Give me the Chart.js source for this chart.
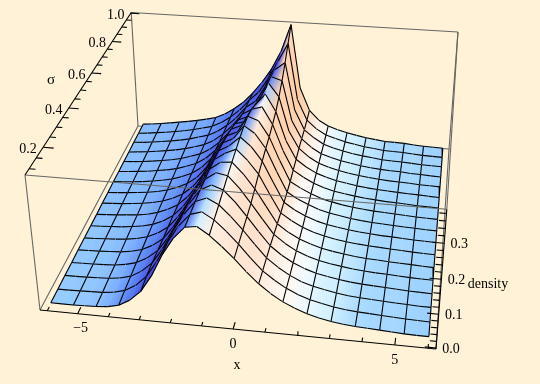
<!DOCTYPE html>
<html>
<head>
<meta charset="utf-8">
<script src="https://cdn.jsdelivr.net/npm/chart.js@4"></script>
<style>
html, body { margin: 0; padding: 0; background: #fff2d6; }
canvas { display: block; }
</style>
</head>
<body>
<canvas id="myChart" width="540" height="384"></canvas>
<script>
// values
const xValues = [-6, -5.625, -5.25, -4.875, -4.5, -4.125, -3.75, -3.375, -3, -2.625, -2.25, -1.875, -1.5, -1.125, -0.75, -0.375,
    0, 0.375, 0.75, 1.125, 1.5, 1.875, 2.25, 2.625, 3, 3.375, 3.75, 4.125, 4.5, 4.875, 5.25, 5.625, 6];
const sigmaValues = [0.1, 0.156, 0.213, 0.269, 0.325, 0.381, 0.438, 0.494, 0.55, 0.606, 0.663, 0.719, 0.775, 0.831, 0.888, 0.944, 1];
// density * 1000, one row per sigma
const density = [
    [0,0,0,1,2,5,13,32,62,112,177,228,263,268,246,217,185,150,118,92,71,55,42,33,26,21,18,16,14,12,10,9,9],
    [0,0,1,2,3,7,16,35,66,116,176,226,262,272,252,222,188,150,115,90,69,53,41,33,26,21,18,16,14,12,10,9,8],
    [1,1,2,3,5,9,18,37,66,113,171,222,262,275,258,226,190,150,113,87,66,50,39,32,25,20,17,15,13,11,10,8,8],
    [1,2,3,4,6,11,20,38,64,108,163,216,260,277,265,232,192,150,110,84,64,49,38,31,25,20,17,15,13,11,9,8,7],
    [2,3,4,6,8,13,22,38,62,103,155,209,256,278,272,238,195,150,106,81,61,47,37,30,25,20,17,14,13,11,9,8,7],
    [2,3,5,7,10,15,24,39,61,98,147,200,252,275,278,245,203,152,101,77,59,46,36,29,24,19,16,14,12,10,9,7,6],
    [3,4,6,8,12,17,25,39,60,93,139,192,246,268,283,252,212,153,97,75,57,44,35,28,23,19,16,14,12,10,8,7,6],
    [3,5,7,10,13,18,27,40,58,88,131,184,240,258,287,260,218,155,94,72,56,43,34,28,23,19,16,13,12,10,8,7,6],
    [4,6,8,11,15,20,28,40,57,84,124,176,232,248,290,268,224,155,91,71,56,43,34,28,22,18,15,13,11,9,8,6,5],
    [4,6,9,12,16,21,29,41,56,80,117,167,222,236,288,276,228,155,90,71,55,42,34,27,22,18,15,13,11,9,7,6,5],
    [5,7,10,13,18,23,30,41,55,77,110,157,210,224,278,288,235,154,92,71,54,42,33,27,22,18,15,12,11,9,7,6,5],
    [5,8,11,14,19,24,31,42,54,74,104,146,196,206,262,298,245,153,94,71,53,42,33,27,21,17,14,12,10,8,7,5,4],
    [6,8,11,15,20,25,32,42,53,71,98,134,178,192,245,303,262,152,97,71,52,41,33,26,21,17,14,11,10,8,6,5,4],
    [6,9,12,16,21,26,33,42,52,69,94,126,166,184,235,295,285,155,97,70,51,41,32,26,20,16,13,11,10,7,6,4,3],
    [7,9,13,17,22,27,34,43,52,68,91,120,158,180,232,290,315,160,95,70,50,40,32,25,20,16,12,10,9,7,5,4,3],
    [7,10,14,18,23,28,35,43,51,67,89,116,152,182,230,290,350,165,97,69,50,40,31,25,19,15,11,10,9,6,4,3,2],
    [8,11,15,20,25,30,36,43,51,66,87,112,146,186,233,295,385,175,100,68,50,39,31,24,18,14,10,9,8,5,3,2,1]
];
const xTicks = [-6, -5, -4, -3, -2, -1, 0, 1, 2, 3, 4, 5, 6];
const xTickLabels = ["\u22125", "0", "5"];
const xLabelled = [-5, 0, 5];
const sigmaTicks = [0.1, 0.15, 0.2, 0.25, 0.3, 0.35, 0.4, 0.45, 0.5, 0.55, 0.6, 0.65, 0.7, 0.75, 0.8, 0.85, 0.9, 0.95, 1];
const sigmaLabelled = [0.2, 0.4, 0.6, 0.8, 1];
const sigmaTickLabels = ["0.2", "0.4", "0.6", "0.8", "1.0"];
const densityTicks = [0, 0.02, 0.04, 0.06, 0.08, 0.1, 0.12, 0.14, 0.16, 0.18, 0.2, 0.22, 0.24, 0.26, 0.28, 0.3, 0.32, 0.34, 0.36, 0.38];
const densityLabelled = [0, 0.1, 0.2, 0.3];
const densityTickLabels = ["0.0", "0.1", "0.2", "0.3"];

// box range and camera, fitted to the corners of the box in the picture
const xRange = [-6.24, 6.24], sigmaRange = [0.072, 1.005], zRange = [-0.003, 0.391];
const P0 = [40, 310], P1 = [436, 349], P2 = [138, 126], P3 = [25, 175];
const W1 = 0.9517, W2 = 1.2753, W3 = 0.94;

function project(x, s, z) {
    const u = (x - xRange[0]) / (xRange[1] - xRange[0]);
    const v = (s - sigmaRange[0]) / (sigmaRange[1] - sigmaRange[0]);
    const w = (z - zRange[0]) / (zRange[1] - zRange[0]);
    const a = 1 - u - v - w;
    const d = a + W1 * u + W2 * v + W3 * w;
    return {
        x: (a * P0[0] + W1 * u * P1[0] + W2 * v * P2[0] + W3 * w * P3[0]) / d,
        y: (a * P0[1] + W1 * u * P1[1] + W2 * v * P2[1] + W3 * w * P3[1]) / d
    };
}

// surface colour from the slope along x
const colorStops = [
    [-0.3, 255, 205, 165], [-0.15, 255, 215, 185], [-0.09, 255, 230, 212], [-0.05, 255, 248, 242],
    [-0.03, 240, 250, 255], [-0.015, 205, 238, 255], [-0.005, 165, 215, 255], [0, 150, 205, 255],
    [0.005, 140, 195, 255], [0.02, 120, 170, 255], [0.05, 90, 135, 245], [0.1, 75, 90, 230],
    [0.16, 70, 65, 215], [0.3, 75, 70, 225]
];
function rampColor(s) {
    if (s <= colorStops[0][0]) return colorStops[0].slice(1);
    for (let i = 1; i < colorStops.length; i++) {
        const b = colorStops[i];
        if (s <= b[0]) {
            const a = colorStops[i - 1], t = (s - a[0]) / (b[0] - a[0]);
            return [1, 2, 3].map(k => a[k] + (b[k] - a[k]) * t);
        }
    }
    return colorStops[colorStops.length - 1].slice(1);
}
function slope(r, c) {
    const c0 = Math.max(c - 1, 0), c1 = Math.min(c + 1, xValues.length - 1);
    return (density[r][c1] - density[r][c0]) / 1000 / (xValues[c1] - xValues[c0]);
}
function cssColor(a, b) {
    const m = [0, 1, 2].map(i => Math.round((a[i] + b[i]) / 2));
    return "rgb(" + m.join(",") + ")";
}

const canvas = document.getElementById("myChart");
const ctx = canvas.getContext("2d");
const paint = [];

function addLine(points, color, width) {
    paint.push({ data: points, borderColor: color, borderWidth: width, pointRadius: 0, fill: false, tension: 0 });
}
function cornerLine(a, b, color) {
    addLine([project(a[0], a[1], a[2]), project(b[0], b[1], b[2])], color || "#666666", 1.1);
}

const xa = xRange[0], xb = xRange[1], sa = sigmaRange[0], sb = sigmaRange[1], za = zRange[0], zb = zRange[1];

// back of the box
cornerLine([xa, sb, zb], [xa, sb, za]);
cornerLine([xa, sb, za], [xb, sb, za]);
cornerLine([xa, sa, za], [xa, sb, za]);
cornerLine([xa, sb, zb], [xb, sb, zb]);
cornerLine([xb, sb, zb], [xb, sb, za]);

function pt(r, c) {
    return project(xValues[c], sigmaValues[r], density[r][c] / 1000);
}

// surface, far rows first, left to right inside a row
for (let r = sigmaValues.length - 2; r >= 0; r--) {
    for (let c = 0; c < xValues.length - 1; c++) {
        const a = pt(r + 1, c), b = pt(r + 1, c + 1), d = pt(r, c + 1), e = pt(r, c);
        const lx = (a.x + e.x) / 2, ly = (a.y + e.y) / 2, rx = (b.x + d.x) / 2, ry = (b.y + d.y) / 2;
        // gradient runs across the column so that colour bands follow the mesh
        const ex = a.x - e.x, ey = a.y - e.y;
        const nx = -ey, ny = ex, nn = nx * nx + ny * ny || 1;
        const dot = ((rx - lx) * nx + (ry - ly) * ny) / nn;
        const grad = ctx.createLinearGradient(lx, ly, lx + nx * dot, ly + ny * dot);
        grad.addColorStop(0, cssColor(rampColor(slope(r, c)), rampColor(slope(r + 1, c))));
        grad.addColorStop(1, cssColor(rampColor(slope(r, c + 1)), rampColor(slope(r + 1, c + 1))));
        paint.push({
            data: [a, b, d, e, a], backgroundColor: grad, borderColor: grad, borderWidth: 0.7,
            pointRadius: 0, fill: "shape", tension: 0
        });
        addLine([a, b], "#000000", 1.1);
        if (c % 2 === 0) addLine([a, e], "#000000", 1.1);
        if (c === xValues.length - 2) addLine([b, d], "#000000", 1.1);
        if (r === 0) addLine([e, d], "#000000", 1.1);
    }
}

// front of the box
cornerLine([xa, sa, zb], [xb, sa, zb]);
cornerLine([xa, sa, zb], [xa, sa, za]);
cornerLine([xb, sa, zb], [xb, sb, zb]);
cornerLine([xb, sb, za], [xb, sa, za]);
// the three axes that carry ticks
cornerLine([xa, sa, za], [xb, sa, za], "#000000");
cornerLine([xa, sa, zb], [xa, sb, zb], "#000000");
cornerLine([xb, sa, za], [xb, sa, zb], "#000000");

xTicks.forEach(t => {
    const len = xLabelled.includes(t) ? 0.026 : 0.015;
    cornerLine([t, sa, za], [t, sa + len, za], "#000000");
});
sigmaTicks.forEach(t => {
    const len = sigmaLabelled.some(m => Math.abs(m - t) < 1e-6) ? 0.34 : 0.2;
    cornerLine([xa, t, zb], [xa + len, t, zb], "#000000");
});
densityTicks.forEach(t => {
    const len = densityLabelled.some(m => Math.abs(m - t) < 1e-6) ? 0.34 : 0.2;
    cornerLine([xb - len, sa, t], [xb, sa, t], "#000000");
});

const labelPlugin = {
    id: "boxLabels",
    afterDraw(chart) {
        const c = chart.ctx, sx = chart.scales.x, sy = chart.scales.y;
        const put = (text, p, dx, dy) => c.fillText(text, sx.getPixelForValue(p.x) + dx, sy.getPixelForValue(p.y) + dy);
        c.save();
        c.fillStyle = "#000000";
        c.textAlign = "center";
        c.textBaseline = "middle";
        c.font = "14px 'Liberation Serif'";
        xLabelled.forEach((t, i) => put(xTickLabels[i], project(t, sa, za), t < 0 ? 3 : 0, 15));
        sigmaLabelled.forEach((t, i) => put(sigmaTickLabels[i], project(xa, t, zb), -15, 2));
        densityLabelled.forEach((t, i) => put(densityTickLabels[i], project(xb, sa, t), 15, 1));
        c.fillText("x", 237, 365);
        c.fillText("density", 488, 284);
        c.font = "15px 'Liberation Serif'";
        c.fillText("\u03c3", 51, 80);
        c.restore();
    }
};

new Chart(ctx, {
    type: "line",
    // first dataset ends up on top, so the paint list goes in reversed
    data: { datasets: paint.reverse() },
    options: {
        responsive: false,
        animation: false,
        events: [],
        layout: { padding: 0 },
        plugins: { legend: { display: false }, tooltip: { enabled: false } },
        scales: {
            x: { type: "linear", min: 0, max: 540, display: false },
            y: { type: "linear", min: 0, max: 384, reverse: true, display: false }
        }
    },
    plugins: [labelPlugin]
});
</script>
</body>
</html>
